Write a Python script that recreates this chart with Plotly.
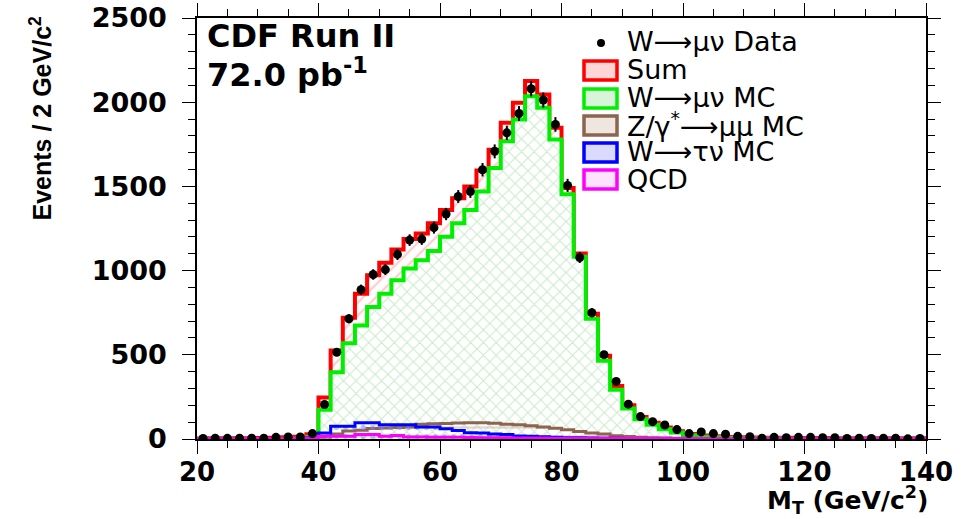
import numpy as np
import plotly.graph_objects as go

# ---- data (2 GeV bins from 20 to 140) ----
BIN_LOW = 20
BIN_WIDTH = 2
N_BINS = 60

data_counts = [3, 5, 4, 5, 5, 5, 10, 12, 12, 32,
               205, 515, 714, 887, 977, 1006, 1096, 1181, 1187, 1255,
               1336, 1440, 1470, 1599, 1708, 1818, 1933, 2080, 2013, 1868,
               1506, 1078, 750, 501, 342, 207, 133, 103, 83, 56,
               32, 42, 32, 28, 16, 14, 5, 10, 8, 10,
               10, 8, 8, 3, 5, 3, 5, 5, 1, 3]

sum_mc = [3, 4, 4, 5, 5, 6, 8, 10, 13, 28,
          246, 525, 720, 863, 972, 1046, 1126, 1187, 1221, 1281,
          1360, 1430, 1499, 1595, 1718, 1878, 1997, 2126, 2046, 1848,
          1490, 1102, 744, 495, 315, 201, 130, 97, 68, 46,
          30, 21, 16, 12, 10, 9, 8, 7, 7, 6,
          6, 6, 5, 5, 5, 5, 5, 4, 4, 4]

w_munu_mc = [0, 0, 0, 0, 0, 0, 0, 1, 3, 12,
             173, 396, 569, 674, 784, 863, 943, 1012, 1062, 1116,
             1201, 1281, 1360, 1470, 1609, 1768, 1897, 2036, 1967, 1778,
             1454, 1082, 714, 465, 292, 181, 117, 85, 58, 38,
             22, 14, 10, 7, 5, 4, 3, 3, 2, 2,
             2, 1, 1, 1, 1, 1, 1, 1, 1, 1]

z_mumu_mc = [0, 0, 0, 0, 0, 0, 0, 1, 2, 4,
             10, 30, 48, 52, 62, 66, 68, 72, 88, 90,
             92, 95, 97, 96, 93, 88, 84, 78, 72, 64,
             55, 45, 36, 30, 20, 15, 11, 8, 6, 5,
             4, 3, 3, 2, 2, 2, 1, 1, 1, 1,
             1, 1, 1, 1, 1, 1, 1, 1, 1, 1]

w_taunu_mc = [0, 0, 0, 0, 0, 0, 1, 1, 2, 8,
              35, 76, 76, 97, 97, 85, 85, 85, 71, 71,
              61, 51, 37, 35, 30, 26, 18, 17, 14, 11,
              8, 7, 6, 5, 4, 3, 3, 2, 2, 1,
              1, 1, 1, 1, 0, 0, 0, 0, 0, 0,
              0, 0, 0, 0, 0, 0, 0, 0, 0, 0]

qcd = [2, 2, 2, 2, 3, 3, 3, 3, 4, 6,
       17, 17, 17, 27, 27, 17, 21, 12, 12, 11,
       10, 10, 9, 8, 7, 7, 6, 6, 6, 5,
       5, 5, 4, 4, 4, 4, 4, 4, 4, 3,
       3, 3, 3, 3, 3, 3, 3, 3, 3, 3,
       3, 3, 3, 3, 3, 3, 3, 3, 3, 3]

x_ticks = [20, 40, 60, 80, 100, 120, 140]
y_ticks = [0, 500, 1000, 1500, 2000, 2500]

edges = BIN_LOW + BIN_WIDTH * np.arange(N_BINS + 1)
centers = edges[:-1] + BIN_WIDTH / 2.0


def step_y(vals):
    return list(vals) + [vals[-1]]


fig = go.Figure()


def add_hist(vals, color, pat_shape, pat_color, width, opaque):
    fp = dict(shape=pat_shape, fgcolor=pat_color, size=9, solidity=0.25)
    if opaque:
        fp["fillmode"] = "overlay"
        fp["bgcolor"] = "white"
    fig.add_trace(go.Scatter(
        x=edges, y=step_y(vals), mode="lines", line_shape="hv",
        line=dict(color=color, width=width),
        fill="tozeroy", fillcolor="white" if opaque else "rgba(0,0,0,0)",
        fillpattern=fp, showlegend=False, hoverinfo="skip"))


add_hist(sum_mc, "#ff0000", "/", "#ff9a9a", 4, True)
add_hist(w_munu_mc, "#00ee00", "x", "#9ad79a", 4, True)
add_hist(z_mumu_mc, "#8c6450", "-", "#c8b0a0", 3, False)
add_hist(w_taunu_mc, "#0000ff", ".", "#8080ff", 3, False)
add_hist(qcd, "#ff00ff", "|", "#ffa0ff", 3, False)

fig.add_trace(go.Scatter(
    x=centers, y=data_counts, mode="markers",
    marker=dict(color="black", size=9, symbol="circle"),
    error_y=dict(type="data", array=np.sqrt(np.array(data_counts, dtype=float)),
                 color="black", thickness=2, width=0),
    showlegend=False, hoverinfo="skip"))

# ---- page geometry (screen pixels) ----
W, H = 964, 519
PX_L, PX_R, PX_T, PX_B = 197, 926, 18, 439


def px(xp):
    return (xp - PX_L) / (PX_R - PX_L)


def py(yp):
    return (PX_B - yp) / (PX_B - PX_T)


shapes = []
annotations = []

leg_font = dict(family="DejaVu Sans", size=27, color="black")
leg_items = [
    ("W⟶μν Data", None, None),
    ("Sum", "#ff0000", "#ffd6d6"),
    ("W⟶μν MC", "#00ee00", "#d9f5d9"),
    ("Z/γ<sup>*</sup>⟶μμ MC", "#8c6450", "#efe6e0"),
    ("W⟶τν MC", "#0000ff", "#dadaff"),
    ("QCD", "#ff00ff", "#ffe0ff"),
]
leg_centers = [41, 69, 97, 124, 151, 178]
for (label, lc, fc), yc in zip(leg_items, leg_centers):
    if lc is None:
        shapes.append(dict(type="circle", xref="paper", yref="paper",
                           x0=px(597), x1=px(605), y0=py(yc + 6), y1=py(yc - 2),
                           fillcolor="black", line=dict(color="black", width=0)))
    else:
        shapes.append(dict(type="rect", xref="paper", yref="paper",
                           x0=px(584), x1=px(617), y0=py(yc + 11), y1=py(yc - 8),
                           fillcolor=fc, line=dict(color=lc, width=3.5)))
    annotations.append(dict(text=label, xref="paper", yref="paper",
                            x=px(625), y=py(yc + 1), xanchor="left", yanchor="middle",
                            showarrow=False, font=leg_font))

annotations.append(dict(text="<b>CDF Run II</b>", xref="paper", yref="paper",
                        x=px(205), y=py(36), xanchor="left", yanchor="middle",
                        showarrow=False,
                        font=dict(family="DejaVu Sans", size=32, color="black")))
annotations.append(dict(text="<b>72.0 pb<sup>-1</sup></b>", xref="paper", yref="paper",
                        x=px(205), y=py(73), xanchor="left", yanchor="middle",
                        showarrow=False,
                        font=dict(family="DejaVu Sans", size=32, color="black")))
annotations.append(dict(text="<b>M<sub>T</sub> (GeV/c<sup>2</sup>)</b>", xref="paper",
                        yref="paper", x=px(930), y=py(500), xanchor="right",
                        yanchor="middle", showarrow=False,
                        font=dict(family="DejaVu Sans", size=25, color="black")))
annotations.append(dict(text="<b>Events / 2 GeV/c<sup>2</sup></b>", xref="paper",
                        yref="paper", x=px(41), y=py(14), xanchor="center",
                        yanchor="top", textangle=-90, showarrow=False,
                        font=dict(family="Liberation Sans", size=25, color="black")))

axis_common = dict(showline=True, linecolor="black", linewidth=1.5, mirror="ticks",
                   ticks="outside", tickcolor="black", tickwidth=1.2, ticklen=13,
                   showgrid=False, zeroline=False, automargin=False,
                   ticklabeloverflow="allow")

tick_font = dict(family="DejaVu Sans", size=26, color="black", weight="bold")

fig.update_layout(
    width=W, height=H,
    margin=dict(l=PX_L, r=W - PX_R, t=PX_T, b=H - PX_B, autoexpand=False),
    paper_bgcolor="white", plot_bgcolor="white",
    showlegend=False,
    shapes=shapes, annotations=annotations,
    xaxis=dict(range=[20, 140], tickvals=x_ticks, tickfont=tick_font,
               ticklabelstandoff=-4,
               minor=dict(dtick=5, ticks="outside", ticklen=7, tickcolor="black"),
               **axis_common),
    yaxis=dict(range=[0, 2500], tickvals=y_ticks, ticklabelstandoff=10,
               tickfont=dict(tick_font, size=27),
               minor=dict(dtick=100, ticks="outside", ticklen=7, tickcolor="black"),
               **axis_common),
)

# remove the browser's default 8 px page margin so the figure fills the window
fig.write_html("out.html",
               config={"displayModeBar": False},
               post_script="document.body.style.margin='0px';"
                           "document.body.style.padding='0px';")
